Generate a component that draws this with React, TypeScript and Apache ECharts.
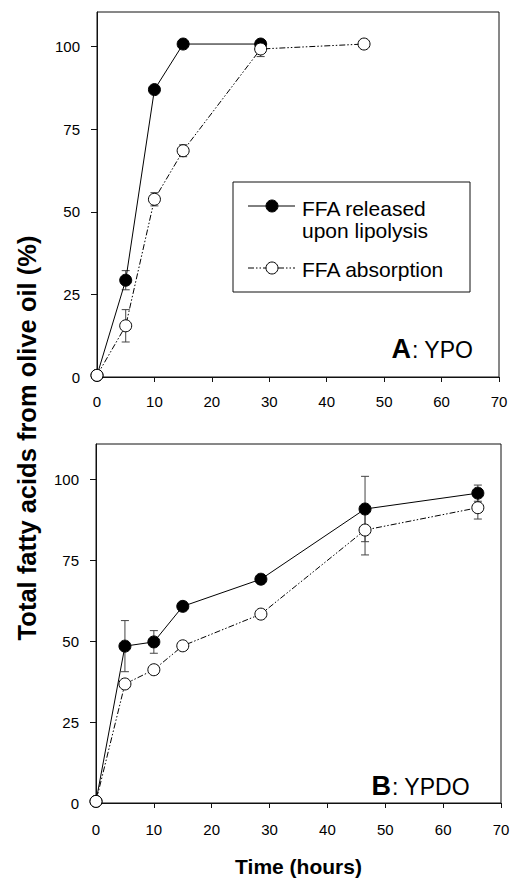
import { useEffect, useRef } from "react";
import * as echarts from "echarts";

// Panel A: YPO
const timeRelA = [0, 5, 10, 15, 28.5];
const releasedA = [0.5, 29.3, 87, 100.8, 100.8];
const releasedErrA = [0, 2.9, 0, 0, 0];
const timeAbsA = [0, 5, 10, 15, 28.5, 46.5];
const absorbedA = [0.5, 15.5, 53.8, 68.5, 99.3, 100.8];
const absorbedErrA = [0, 4.9, 2.0, 1.8, 2.3, 0];

// Panel B: YPDO
const timeB = [0, 5, 10, 15, 28.5, 46.5, 66];
const releasedB = [0.5, 48.5, 49.8, 60.8, 69.2, 90.9, 95.8];
const releasedErrB = [0, 7.9, 3.5, 0, 0, 10.1, 2.5];
const absorbedB = [0.5, 36.8, 41.2, 48.6, 58.4, 84.4, 91.3];
const absorbedErrB = [0, 0, 0, 0, 0, 7.7, 3.5];

const xTicks = [0, 10, 20, 30, 40, 50, 60, 70];
const yTicks = [0, 25, 50, 75, 100];

const FONT = "'Liberation Sans', Arial, Helvetica, sans-serif";
const DASH_DOT_DOT = [6, 2, 1.5, 2, 1.5, 2];

function pairs(xs: number[], ys: number[]) {
  return xs.map((x, i) => [x, ys[i]]);
}
function errs(xs: number[], ys: number[], es: number[]) {
  return xs
    .map((x, i) => [x, ys[i] - es[i], ys[i] + es[i], es[i]])
    .filter((d) => d[3] > 0);
}

export default function App() {
  const ref = useRef<HTMLDivElement>(null);
  useEffect(() => {
    document.body.style.margin = "0";
    const chart = echarts.init(ref.current!, undefined, { renderer: "svg" });

    const xAxisBase = (gi: number, nameShown: boolean) => ({
      type: "value",
      gridIndex: gi,
      min: 0,
      max: 70,
      interval: 10,
      axisLine: { show: true, onZero: false, lineStyle: { color: "#111", width: 1 } },
      axisTick: { show: true, inside: false, length: 5, lineStyle: { color: "#111" } },
      axisLabel: {
        color: "#000",
        fontSize: 15,
        fontFamily: FONT,
        margin: gi === 0 ? 17 : 19,
        customValues: xTicks,
      },
      splitLine: { show: false },
      name: nameShown ? "Time (hours)" : "",
      nameLocation: "middle",
      nameGap: 53,
      nameTextStyle: { color: "#000", fontSize: 21, fontWeight: "bold", fontFamily: FONT },
    });
    const yAxisBase = (gi: number, max: number) => ({
      type: "value",
      gridIndex: gi,
      min: 0,
      max,
      interval: 25,
      axisLine: { show: true, lineStyle: { color: "#111", width: 1 } },
      axisTick: { show: true, inside: false, length: 6, lineStyle: { color: "#111" }, customValues: yTicks },
      axisLabel: { color: "#000", fontSize: 15, fontFamily: FONT, margin: 17, customValues: yTicks },
      splitLine: { show: false },
    });

    const errSeries = (gi: number, data: number[][]) => ({
      type: "custom",
      xAxisIndex: gi,
      yAxisIndex: gi,
      z: 1,
      silent: true,
      data,
      renderItem: (_p: any, api: any) => {
        const x = api.value(0);
        const lo = api.coord([x, api.value(1)]);
        const hi = api.coord([x, api.value(2)]);
        const w = 4;
        const st = { stroke: "#444", lineWidth: 1 };
        return {
          type: "group",
          children: [
            { type: "line", shape: { x1: lo[0], y1: lo[1], x2: hi[0], y2: hi[1] }, style: st },
            { type: "line", shape: { x1: lo[0] - w, y1: lo[1], x2: lo[0] + w, y2: lo[1] }, style: st },
            { type: "line", shape: { x1: hi[0] - w, y1: hi[1], x2: hi[0] + w, y2: hi[1] }, style: st },
          ],
        };
      },
    });

    const filled = (gi: number, data: number[][], name: string) => ({
      type: "line",
      name,
      xAxisIndex: gi,
      yAxisIndex: gi,
      z: 3,
      data,
      symbol: "circle",
      symbolSize: 12,
      showAllSymbol: true,
      itemStyle: { color: "#000", borderColor: "#000", borderWidth: 1 },
      lineStyle: { color: "#000", width: 1, type: "solid" },
    });
    const open = (gi: number, data: number[][], name: string) => ({
      type: "line",
      name,
      xAxisIndex: gi,
      yAxisIndex: gi,
      z: 4,
      data,
      symbol: "circle",
      symbolSize: 12,
      showAllSymbol: true,
      itemStyle: { color: "#fff", borderColor: "#000", borderWidth: 1 },
      lineStyle: { color: "#000", width: 1, type: DASH_DOT_DOT },
    });

    chart.setOption({
      animation: false,
      backgroundColor: "#fff",
      grid: [
        { left: 97, top: 12, width: 402, height: 365, show: true, borderColor: "#111", borderWidth: 1, backgroundColor: "transparent" },
        { left: 96, top: 444, width: 405, height: 366, show: true, borderColor: "#111", borderWidth: 1, backgroundColor: "transparent" },
      ],
      xAxis: [xAxisBase(0, false), xAxisBase(1, true)],
      yAxis: [yAxisBase(0, 110.5), yAxisBase(1, 111)],
      series: [
        errSeries(0, errs(timeRelA, releasedA, releasedErrA)),
        errSeries(0, errs(timeAbsA, absorbedA, absorbedErrA)),
        filled(0, pairs(timeRelA, releasedA), "FFA released upon lipolysis"),
        open(0, pairs(timeAbsA, absorbedA), "FFA absorption"),
        errSeries(1, errs(timeB, releasedB, releasedErrB)),
        errSeries(1, errs(timeB, absorbedB, absorbedErrB)),
        filled(1, pairs(timeB, releasedB), "FFA released upon lipolysis B"),
        open(1, pairs(timeB, absorbedB), "FFA absorption B"),
      ],
      graphic: [
        {
          type: "text",
          x: 27,
          y: 438,
          rotation: Math.PI / 2,
          style: {
            text: "Total fatty acids from olive oil (%)",
            fontSize: 25.5,
            fontWeight: "bold",
            fontFamily: FONT,
            fill: "#000",
            align: "center",
            verticalAlign: "middle",
          },
        },
        {
          type: "group",
          children: [
            { type: "rect", shape: { x: 233, y: 182, width: 237, height: 110 }, style: { fill: "#fff", stroke: "#111", lineWidth: 1 } },
            { type: "line", shape: { x1: 248, y1: 206, x2: 295, y2: 206 }, style: { stroke: "#000", lineWidth: 1 } },
            { type: "circle", shape: { cx: 272, cy: 206, r: 6 }, style: { fill: "#000", stroke: "#000" } },
            { type: "text", x: 302, y: 208, style: { text: "FFA released", fontSize: 21, fontFamily: FONT, fill: "#000", align: "left", verticalAlign: "middle" } },
            { type: "text", x: 302, y: 230, style: { text: "upon lipolysis", fontSize: 21, fontFamily: FONT, fill: "#000", align: "left", verticalAlign: "middle" } },
            { type: "line", shape: { x1: 248, y1: 268, x2: 295, y2: 268 }, style: { stroke: "#000", lineWidth: 1, lineDash: DASH_DOT_DOT } },
            { type: "circle", shape: { cx: 272, cy: 268, r: 6 }, style: { fill: "#fff", stroke: "#000", lineWidth: 1 } },
            { type: "text", x: 302, y: 269, style: { text: "FFA absorption", fontSize: 21, fontFamily: FONT, fill: "#000", align: "left", verticalAlign: "middle" } },
          ],
        },
        { type: "text", x: 411, y: 348.5, style: { text: "A", fontSize: 27, fontWeight: "bold", fontFamily: FONT, fill: "#000", align: "right", verticalAlign: "middle" } },
        { type: "text", x: 412, y: 349.5, style: { text: ": YPO", fontSize: 23, fontFamily: FONT, fill: "#000", align: "left", verticalAlign: "middle" } },
        { type: "text", x: 391, y: 786, style: { text: "B", fontSize: 27, fontWeight: "bold", fontFamily: FONT, fill: "#000", align: "right", verticalAlign: "middle" } },
        { type: "text", x: 392, y: 787, style: { text: ": YPDO", fontSize: 23, fontFamily: FONT, fill: "#000", align: "left", verticalAlign: "middle" } },
      ],
    });
    return () => chart.dispose();
  }, []);
  return <div ref={ref} style={{ width: 514, height: 878 }} />;
}
